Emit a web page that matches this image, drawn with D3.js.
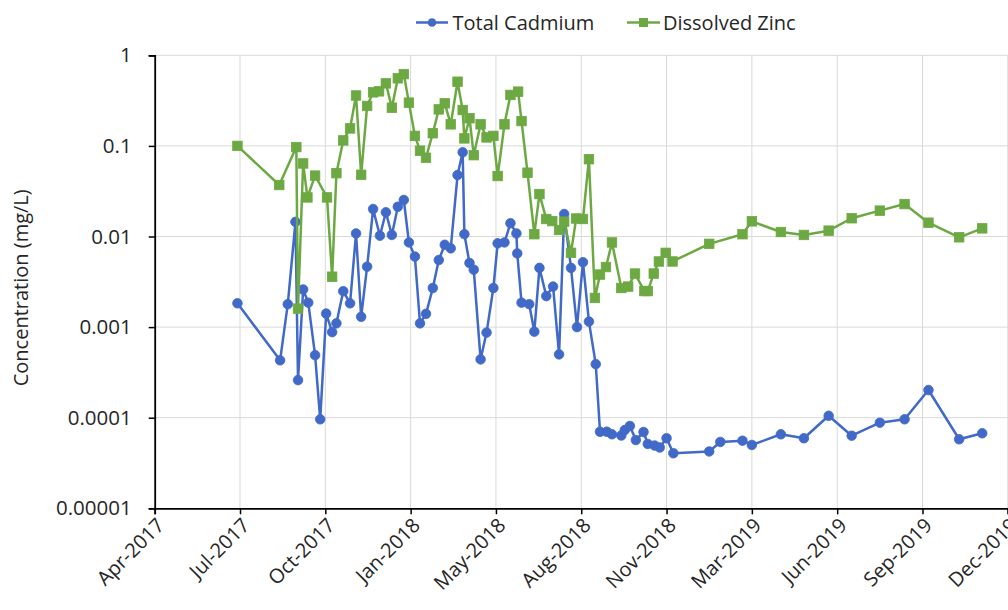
<!DOCTYPE html>
<html>
<head>
<meta charset="utf-8">
<script src="https://cdnjs.cloudflare.com/ajax/libs/d3/7.8.5/d3.min.js"></script>
<style>
  html, body { margin: 0; padding: 0; background: #ffffff; }
  svg { display: block; }
</style>
</head>
<body>
<svg id="chart" width="1008" height="610"></svg>
<script>
// ---------------- DATA ----------------
const seriesNames = ["Total Cadmium", "Dissolved Zinc"];

const cadmiumDates = [
  "2017-07-07","2017-08-26","2017-09-04","2017-09-13","2017-09-16","2017-09-22","2017-09-28",
  "2017-10-06","2017-10-12","2017-10-19","2017-10-26","2017-10-31","2017-11-08","2017-11-16",
  "2017-11-23","2017-11-29","2017-12-06","2017-12-13","2017-12-21","2017-12-28","2018-01-04",
  "2018-01-11","2018-01-18","2018-01-24","2018-01-31","2018-02-06","2018-02-13","2018-02-21",
  "2018-02-28","2018-03-07","2018-03-14","2018-03-22","2018-03-28","2018-03-30","2018-04-05",
  "2018-04-10","2018-04-18","2018-04-25","2018-05-03","2018-05-08","2018-05-16","2018-05-23",
  "2018-05-30","2018-05-31","2018-06-05","2018-06-14","2018-06-20","2018-06-26","2018-07-04",
  "2018-07-12","2018-07-19","2018-07-25","2018-08-02","2018-08-09","2018-08-16","2018-08-23",
  "2018-08-31","2018-09-05","2018-09-13","2018-09-19","2018-09-30","2018-10-04","2018-10-10",
  "2018-10-17","2018-10-26","2018-10-31","2018-11-08","2018-11-14","2018-11-22","2018-11-30",
  "2019-01-11","2019-01-24","2019-02-19","2019-03-02","2019-04-05","2019-05-02","2019-05-31",
  "2019-06-27","2019-07-30","2019-08-28","2019-09-25","2019-10-31","2019-11-27"
];
const cadmiumValues = [
  0.00183,0.00043,0.00179,0.0145,0.00026,0.0026,0.00186,
  0.00049,0.000096,0.00141,0.00088,0.0011,0.00249,0.00183,
  0.0108,0.0013,0.00464,0.0201,0.0102,0.0185,0.0104,
  0.0213,0.0253,0.0086,0.006,0.0011,0.0014,0.0027,
  0.0055,0.0081,0.0074,0.0477,0.085,0.0106,0.0051,
  0.0043,0.00044,0.00087,0.0027,0.0084,0.0086,0.014,
  0.0108,0.0065,0.00186,0.00179,0.00089,0.0045,0.0022,
  0.0028,0.0005,0.0177,0.0045,0.001,0.0052,0.00115,
  0.00039,0.00007,0.00007,0.0000656,0.0000636,0.000073,0.000081,
  0.0000567,0.0000695,0.0000513,0.0000493,0.0000469,0.0000593,0.0000405,
  0.0000424,0.000054,0.0000557,0.00005,0.0000656,0.0000593,0.000105,
  0.0000633,0.000088,0.000096,0.000202,0.0000578,0.0000673
];

const zincDates = [
  "2017-07-07","2017-08-25","2017-09-14","2017-09-16","2017-09-22","2017-09-27","2017-10-06",
  "2017-10-20","2017-10-26","2017-10-31","2017-11-08","2017-11-16","2017-11-23","2017-11-29",
  "2017-12-06","2017-12-13","2017-12-20","2017-12-28","2018-01-04","2018-01-11","2018-01-18",
  "2018-01-24","2018-01-31","2018-02-06","2018-02-13","2018-02-21","2018-02-28","2018-03-07",
  "2018-03-14","2018-03-22","2018-03-28","2018-03-30","2018-04-05","2018-04-10","2018-04-18",
  "2018-04-25","2018-05-03","2018-05-08","2018-05-16","2018-05-23","2018-06-01","2018-06-05",
  "2018-06-12","2018-06-20","2018-06-26","2018-07-04","2018-07-11","2018-07-19","2018-07-25",
  "2018-08-02","2018-08-08","2018-08-16","2018-08-23","2018-08-30","2018-09-05","2018-09-12",
  "2018-09-19","2018-09-30","2018-10-08","2018-10-16","2018-10-27","2018-10-31","2018-11-07",
  "2018-11-13","2018-11-21","2018-11-29","2019-01-11","2019-02-19","2019-03-02","2019-04-05",
  "2019-05-02","2019-05-31","2019-06-27","2019-07-30","2019-08-28","2019-09-25","2019-10-31",
  "2019-11-27"
];
const zincValues = [
  0.1,0.037,0.097,0.0016,0.064,0.027,0.047,
  0.027,0.0036,0.05,0.115,0.156,0.36,0.048,
  0.276,0.39,0.40,0.49,0.264,0.557,0.62,
  0.30,0.129,0.0885,0.074,0.138,0.253,0.295,
  0.173,0.511,0.249,0.121,0.202,0.079,0.173,
  0.124,0.129,0.0465,0.173,0.365,0.397,0.188,
  0.0506,0.0106,0.0294,0.0156,0.0148,0.0118,0.0146,
  0.0066,0.0158,0.0156,0.0713,0.0021,0.0038,0.0046,
  0.0086,0.0027,0.0028,0.0039,0.0025,0.0025,0.0039,
  0.0053,0.0066,0.0053,0.0083,0.0106,0.0147,0.0112,
  0.0104,0.0116,0.0159,0.0193,0.0228,0.0142,0.0098,
  0.0123
];

const yTickValues = [1, 0.1, 0.01, 0.001, 0.0001, 0.00001];
const yTickLabels = ["1", "0.1", "0.01", "0.001", "0.0001", "0.00001"];
const xTickLabels = ["Apr-2017","Jul-2017","Oct-2017","Jan-2018","May-2018","Aug-2018",
                     "Nov-2018","Mar-2019","Jun-2019","Sep-2019","Dec-2019"];
const xAxisStart = "2017-04-01";
const xTickStepDays = 100;
const yAxisTitle = "Concentration (mg/L)";

// ---------------- CHART ----------------
const FONT = "'Open Sans', 'Noto Sans', sans-serif";
const TEXT = "#262626";
const colorCd = "#4169C8";
const colorZn = "#6CA942";
const parse = d3.utcParse("%Y-%m-%d");

const svg = d3.select("#chart");
const pLeft = 154.7, pRight = 1007.8, pTop = 55.3, pBottom = 508.3;

const start = parse(xAxisStart);
const xTicks = xTickLabels.map((_, i) => d3.utcDay.offset(start, i * xTickStepDays));
const x = d3.scaleUtc().domain([xTicks[0], xTicks[xTicks.length - 1]]).range([pLeft, pRight]);
const y = d3.scaleLog().domain([0.00001, 1]).range([pBottom, pTop]);

// gridlines
const grid = svg.append("g");
grid.selectAll("line.h").data(yTickValues.slice(0, -1)).join("line")
  .attr("x1", pLeft).attr("x2", pRight)
  .attr("y1", d => y(d)).attr("y2", d => y(d))
  .attr("stroke", "#d9d9d9").attr("stroke-width", 1);
grid.selectAll("line.v").data(xTicks.slice(1)).join("line")
  .attr("x1", d => x(d)).attr("x2", d => x(d))
  .attr("y1", pTop).attr("y2", pBottom)
  .attr("stroke", "#d9d9d9").attr("stroke-width", 1);

// axes
const yAxis = d3.axisLeft(y).tickValues(yTickValues)
  .tickFormat((d, i) => yTickLabels[i]).tickSizeOuter(0).tickSize(6).tickPadding(17);
const gy = svg.append("g").attr("transform", `translate(${pLeft},0)`).call(yAxis);
gy.select(".domain").attr("stroke", "#000").attr("stroke-width", 1.8);
gy.selectAll(".tick line").attr("stroke", "#000").attr("stroke-width", 1.5);
gy.selectAll(".tick text").attr("font-family", FONT).attr("font-size", 20.5).attr("fill", TEXT);

const xAxis = d3.axisBottom(x).tickValues(xTicks)
  .tickFormat((d, i) => xTickLabels[i]).tickSizeOuter(0).tickSize(6);
const gx = svg.append("g").attr("transform", `translate(0,${pBottom})`).call(xAxis);
gx.select(".domain").attr("stroke", "#000").attr("stroke-width", 1.8);
gx.selectAll(".tick line").attr("stroke", "#000").attr("stroke-width", 1.5);
gx.selectAll(".tick text")
  .attr("font-family", FONT).attr("font-size", 20).attr("fill", TEXT)
  .attr("text-anchor", "end").attr("dy", null).attr("y", 0).attr("x", 0)
  .attr("transform", "translate(5,13) rotate(-45)")
  .attr("dominant-baseline", "central");

// axis title
svg.append("text")
  .attr("transform", `translate(20,${(pTop + pBottom) / 2 + 6}) rotate(-90)`)
  .attr("text-anchor", "middle").attr("dominant-baseline", "central")
  .attr("font-family", FONT).attr("font-size", 20)
  .attr("fill", TEXT).text(yAxisTitle);

// series
const cd = cadmiumDates.map((d, i) => ({ date: parse(d), value: cadmiumValues[i] }));
const zn = zincDates.map((d, i) => ({ date: parse(d), value: zincValues[i] }));
const line = d3.line().x(d => x(d.date)).y(d => y(d.value));

const gCd = svg.append("g");
gCd.append("path").datum(cd).attr("d", line).attr("fill", "none")
  .attr("stroke", colorCd).attr("stroke-width", 2.5).attr("stroke-linejoin", "round");
gCd.selectAll("circle").data(cd).join("circle")
  .attr("cx", d => x(d.date)).attr("cy", d => y(d.value)).attr("r", 4.8)
  .attr("fill", colorCd).attr("stroke", colorCd).attr("stroke-width", 0.8);

const gZn = svg.append("g");
gZn.append("path").datum(zn).attr("d", line).attr("fill", "none")
  .attr("stroke", colorZn).attr("stroke-width", 2.5).attr("stroke-linejoin", "round");
const sq = 9.5;
gZn.selectAll("rect").data(zn).join("rect")
  .attr("x", d => x(d.date) - sq / 2).attr("y", d => y(d.value) - sq / 2)
  .attr("width", sq).attr("height", sq)
  .attr("fill", colorZn).attr("stroke", colorZn).attr("stroke-width", 0.8);

// legend
const legend = svg.append("g").attr("font-family", FONT).attr("font-size", 20).attr("fill", TEXT);
const ly = 22.5;
const l1 = legend.append("g").attr("transform", "translate(416,0)");
l1.append("line").attr("x1", 0).attr("x2", 32).attr("y1", ly).attr("y2", ly)
  .attr("stroke", colorCd).attr("stroke-width", 2.5);
l1.append("circle").attr("cx", 16).attr("cy", ly).attr("r", 4.3).attr("fill", colorCd);
l1.append("text").attr("x", 36.5).attr("y", ly).attr("dominant-baseline", "central").text(seriesNames[0]);

const l2 = legend.append("g").attr("transform", "translate(627,0)");
l2.append("line").attr("x1", 0).attr("x2", 33).attr("y1", ly).attr("y2", ly)
  .attr("stroke", colorZn).attr("stroke-width", 2.5);
l2.append("rect").attr("x", 16.5 - 4.5).attr("y", ly - 4.5).attr("width", 9).attr("height", 9).attr("fill", colorZn);
l2.append("text").attr("x", 36).attr("y", ly).attr("dominant-baseline", "central").text(seriesNames[1]);
</script>
</body>
</html>
